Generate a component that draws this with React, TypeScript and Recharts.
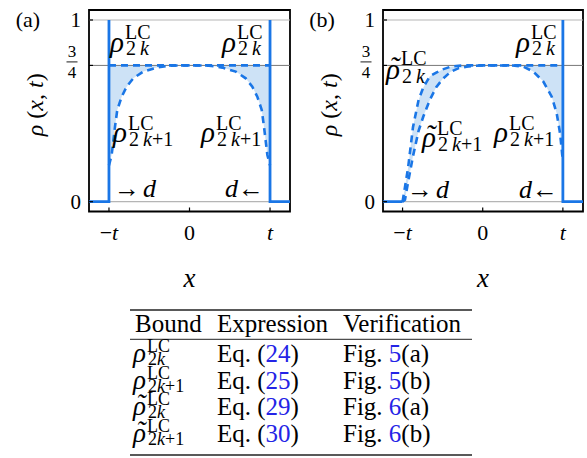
import React from 'react';
import { ComposedChart, Line, Area, XAxis, YAxis, ReferenceLine, ReferenceArea } from 'recharts';

const FONT = '"Liberation Serif", "Times New Roman", serif';
const BLUE = '#1a76e6';
const FILL = '#cde2f6';
const LINK = '#2424e6';

// ---------- panel (a) ----------
const panelAX = [-1, -0.967, -0.925, -0.897, -0.842, -0.78, -0.698, -0.574, -0.408, -0.242, 0, 0.242, 0.408, 0.574, 0.698, 0.78, 0.842, 0.897, 0.925, 0.967, 1];
const panelAUpper = [0.75, 0.75, 0.75, 0.75, 0.75, 0.75, 0.75, 0.75, 0.75, 0.75, 0.75, 0.75, 0.75, 0.75, 0.75, 0.75, 0.75, 0.75, 0.75, 0.75, 0.75];
const panelALower = [0.2, 0.257, 0.413, 0.505, 0.578, 0.633, 0.679, 0.716, 0.738, 0.749, 0.75, 0.749, 0.738, 0.716, 0.679, 0.633, 0.578, 0.505, 0.413, 0.257, 0.2];
const panelASolidX = [-1.248, -1, -1, 0, 1, 1, 1.248];
const panelASolidY: (number | null)[] = [0, 0, 1, null, 1, 0, 0];

// ---------- panel (b) ----------
const panelBX = [-1, -0.97, -0.93, -0.87, -0.8, -0.74, -0.66, -0.58, -0.5, -0.4, -0.3, -0.2, -0.1, 0, 0.2, 0.4, 0.507, 0.632, 0.756, 0.861, 0.923, 0.965, 0.986, 1];
const panelBUpper = [0, 0.08, 0.19, 0.41, 0.56, 0.63, 0.69, 0.71, 0.728, 0.743, 0.748, 0.75, 0.75, 0.75, 0.75, 0.75, 0.75, 0.75, 0.75, 0.75, 0.75, 0.75, 0.75, 0.75];
const panelBLower = [0, 0.01, 0.11, 0.25, 0.39, 0.47, 0.56, 0.63, 0.675, 0.715, 0.735, 0.743, 0.748, 0.75, 0.75, 0.749, 0.743, 0.716, 0.661, 0.578, 0.486, 0.376, 0.285, 0.22];
const panelBSolidX = [-1.244, -1, 0, 1, 1, 1.251];
const panelBSolidY: (number | null)[] = [0, 0, null, 1, 0, 0];

// ---------- axes ----------
const xTicks = [-1, 0, 1];
const yTicks = [0, 0.75, 1];
const yDomain = [-0.054, 1.055];

// ---------- table ----------
const tableHeaders = ['Bound', 'Expression', 'Verification'];
const boundTilde = [false, false, true, true];
const boundSub = ['2k', '2k+1', '2k', '2k+1'];
const eqNumbers = ['24', '25', '29', '30'];
const figNumbers = ['5', '5', '6', '6'];
const figParts = ['(a)', '(b)', '(a)', '(b)'];

const XTick = (p: any) => {
  const { x, y, payload } = p;
  const v = payload.value;
  return (
    <g>
      <line x1={x} x2={x} y1={y} y2={y - 4} stroke="#000" strokeWidth={1.2} />
      <text x={x} y={y + 28.5} textAnchor="middle" fontFamily={FONT} fontSize={22} fill="#000">
        {v === -1 ? (
          <>
            {'\u2212'}
            <tspan fontStyle="italic">t</tspan>
          </>
        ) : v === 1 ? (
          <tspan fontStyle="italic">t</tspan>
        ) : (
          '0'
        )}
      </text>
    </g>
  );
};

const YTick = (p: any) => {
  const { x, y, payload } = p;
  const v = payload.value;
  const tick = <line x1={x} x2={x + 4} y1={y} y2={y} stroke="#000" strokeWidth={1.2} />;
  if (v === 0.75) {
    return (
      <g>
        {tick}
        <text x={x - 17} y={y - 8} textAnchor="middle" fontFamily={FONT} fontSize={17} fill="#000">3</text>
        <line x1={x - 22.5} x2={x - 11.5} y1={y - 3.5} y2={y - 3.5} stroke="#000" strokeWidth={0.9} />
        <text x={x - 17} y={y + 13} textAnchor="middle" fontFamily={FONT} fontSize={17} fill="#000">4</text>
      </g>
    );
  }
  return (
    <g>
      {tick}
      <text x={x - 8} y={y + 7} textAnchor="end" fontFamily={FONT} fontSize={21} fill="#000">{v}</text>
    </g>
  );
};

const YLabel = (p: any) => {
  const vb = p.viewBox || { x: 0, y: 10, width: 89, height: 201 };
  const cx = vb.x + 35;
  const cy = vb.y + vb.height / 2 - 6;
  return (
    <text transform={`translate(${cx},${cy}) rotate(-90)`} textAnchor="middle" dominantBaseline="central" fontFamily={FONT} fontSize={24} fill="#000">
      <tspan fontStyle="italic">ρ</tspan> (<tspan fontStyle="italic">x</tspan>, <tspan fontStyle="italic">t</tspan>)
    </text>
  );
};

type PanelProps = {
  left: number;
  width: number;
  marginRight: number;
  xDomain: number[];
  xs: number[];
  upper: number[];
  lower: number[];
  solidX: number[];
  solidY: (number | null)[];
};

function Panel({ left, width, marginRight, xDomain, xs, upper, lower, solidX, solidY }: PanelProps) {
  const band = xs.map((x, i) => ({ x, band: [lower[i], upper[i]] }));
  const up = xs.map((x, i) => ({ x, y: upper[i] }));
  const lo = xs.map((x, i) => ({ x, y: lower[i] }));
  const solid = solidX.map((x, i) => ({ x, y: solidY[i] }));
  return (
    <div style={{ position: 'absolute', left, top: 0 }}>
      <ComposedChart width={width} height={300} data={band} margin={{ top: 10, right: marginRight, bottom: 0, left: 0 }}>
        <XAxis
          type="number"
          dataKey="x"
          domain={xDomain}
          ticks={xTicks}
          interval={0}
          allowDataOverflow
          axisLine={false}
          tickLine={false}
          tickSize={0}
          tickMargin={0}
          height={88.5}
          tick={(p: any) => <XTick {...p} />}
          label={{ value: 'x', position: 'insideBottom', offset: 13, fontSize: 27, fontStyle: 'italic', fontFamily: FONT, fill: '#000' }}
        />
        <YAxis
          type="number"
          domain={yDomain}
          ticks={yTicks}
          interval={0}
          allowDataOverflow
          axisLine={false}
          tickLine={false}
          tickSize={0}
          tickMargin={0}
          width={89}
          tick={(p: any) => <YTick {...p} />}
          label={(p: any) => <YLabel {...p} />}
        />
        <Area dataKey="band" type="linear" stroke="none" fill={FILL} fillOpacity={1} isAnimationActive={false} />
        <ReferenceLine y={1} stroke="#b5b5b5" strokeWidth={1.2} />
        <ReferenceLine y={0} stroke="#b5b5b5" strokeWidth={1.2} />
        <ReferenceLine y={0.75} stroke="#777" strokeWidth={1} />
        <Line data={up} dataKey="y" type="linear" stroke={BLUE} strokeWidth={2.6} strokeDasharray="7 5" dot={false} isAnimationActive={false} />
        <Line data={lo} dataKey="y" type="linear" stroke={BLUE} strokeWidth={2.6} strokeDasharray="7 5" dot={false} isAnimationActive={false} />
        <Line data={solid} dataKey="y" type="linear" stroke={BLUE} strokeWidth={2.8} dot={false} connectNulls={false} isAnimationActive={false} />
        <ReferenceArea x1={xDomain[0]} x2={xDomain[1]} y1={yDomain[0]} y2={yDomain[1]} fill="none" fillOpacity={0} stroke="#000" strokeWidth={1.8} ifOverflow="visible" />
      </ComposedChart>
    </div>
  );
}

// ρ (optionally with tilde) with superscript LC and a subscript, drawn as ONE text element
function Rho({ x, y, sub, tilde = false, fs = 29, ss = 20, dx = 15, up = 13, down = 3, space = true }: any) {
  const parts = sub.split('k');
  const tdy = -Math.round(fs * 0.06);
  return (
    <text x={x} y={y} fontFamily={FONT} fill="#000" fontSize={fs}>
      <tspan fontStyle="italic">ρ</tspan>
      {tilde ? (
        <tspan x={x + fs * 0.12} dy={tdy} fontStyle="italic">{'\u02DC'}</tspan>
      ) : null}
      <tspan x={x + dx} dy={-up - (tilde ? tdy : 0)} fontSize={ss}>LC</tspan>
      <tspan x={x + dx + 1} dy={up + down} fontSize={ss}>
        {parts[0]}
        {space ? '\u2009' : ''}
      </tspan>
      <tspan fontSize={ss} fontStyle="italic">k</tspan>
      <tspan fontSize={ss}>{parts[1]}</tspan>
    </text>
  );
}

export default function App() {
  const rowBase = [362, 388.5, 415, 441.5];
  return (
    <div style={{ position: 'absolute', left: 0, top: 0, width: 587, height: 458, background: '#fff', overflow: 'hidden' }}>
      <Panel left={0} width={300} marginRight={10} xDomain={[-1.248, 1.248]} xs={panelAX} upper={panelAUpper} lower={panelALower} solidX={panelASolidX} solidY={panelASolidY} />
      <Panel left={294} width={293} marginRight={4} xDomain={[-1.244, 1.251]} xs={panelBX} upper={panelBUpper} lower={panelBLower} solidX={panelBSolidX} solidY={panelBSolidY} />
      <svg width={587} height={458} style={{ position: 'absolute', left: 0, top: 0, pointerEvents: 'none' }}>
        <text x={28} y={27} textAnchor="middle" fontFamily={FONT} fontSize={22}>(a)</text>
        <text x={322} y={27} textAnchor="middle" fontFamily={FONT} fontSize={22}>(b)</text>

        {/* panel (a) annotations */}
        <Rho x={110} y={52} sub="2k" />
        <Rho x={222} y={52} sub="2k" />
        <Rho x={113} y={142} sub="2k+1" up={12} down={4} />
        <Rho x={201} y={142} sub="2k+1" up={12} down={4} />
        <text x={114} y={197} fontFamily={FONT} fontSize={26}>{'\u2192'}<tspan fontStyle="italic" dx={3}>d</tspan></text>
        <text x={264} y={197} textAnchor="end" fontFamily={FONT} fontSize={26}><tspan fontStyle="italic">d</tspan>{'\u2190'}</text>

        {/* panel (b) annotations */}
        <Rho x={386} y={79} sub="2k" tilde up={14} down={4} />
        <Rho x={422} y={147} sub="2k+1" tilde up={12} down={4} />
        <Rho x={516} y={52} sub="2k" />
        <Rho x={494} y={142} sub="2k+1" up={12} down={4} />
        <text x={407} y={198} fontFamily={FONT} fontSize={26}>{'\u2192'}<tspan fontStyle="italic" dx={3}>d</tspan></text>
        <text x={558} y={198} textAnchor="end" fontFamily={FONT} fontSize={26}><tspan fontStyle="italic">d</tspan>{'\u2190'}</text>

        {/* table */}
        <line x1={130} x2={472} y1={310} y2={310} stroke="#222" strokeWidth={1.4} />
        <line x1={130} x2={472} y1={339.3} y2={339.3} stroke="#222" strokeWidth={1} />
        <line x1={130} x2={472} y1={455} y2={455} stroke="#222" strokeWidth={1.4} />
        <g fontFamily={FONT} fontSize={25} fill="#000">
          <text x={135} y={331.5}>{tableHeaders[0]}</text>
          <text x={217} y={331.5}>{tableHeaders[1]}</text>
          <text x={343} y={331.5}>{tableHeaders[2]}</text>
          {rowBase.map((b, i) => (
            <g key={i}>
              <Rho x={133} y={b} sub={boundSub[i]} tilde={boundTilde[i]} fs={27} ss={18} dx={14} up={10} down={3} space={false} />
              <text x={217} y={b}>
                Eq. (<tspan fill={LINK}>{eqNumbers[i]}</tspan>)
              </text>
              <text x={343} y={b}>
                Fig. <tspan fill={LINK}>{figNumbers[i]}</tspan>{figParts[i]}
              </text>
            </g>
          ))}
        </g>
      </svg>
    </div>
  );
}
